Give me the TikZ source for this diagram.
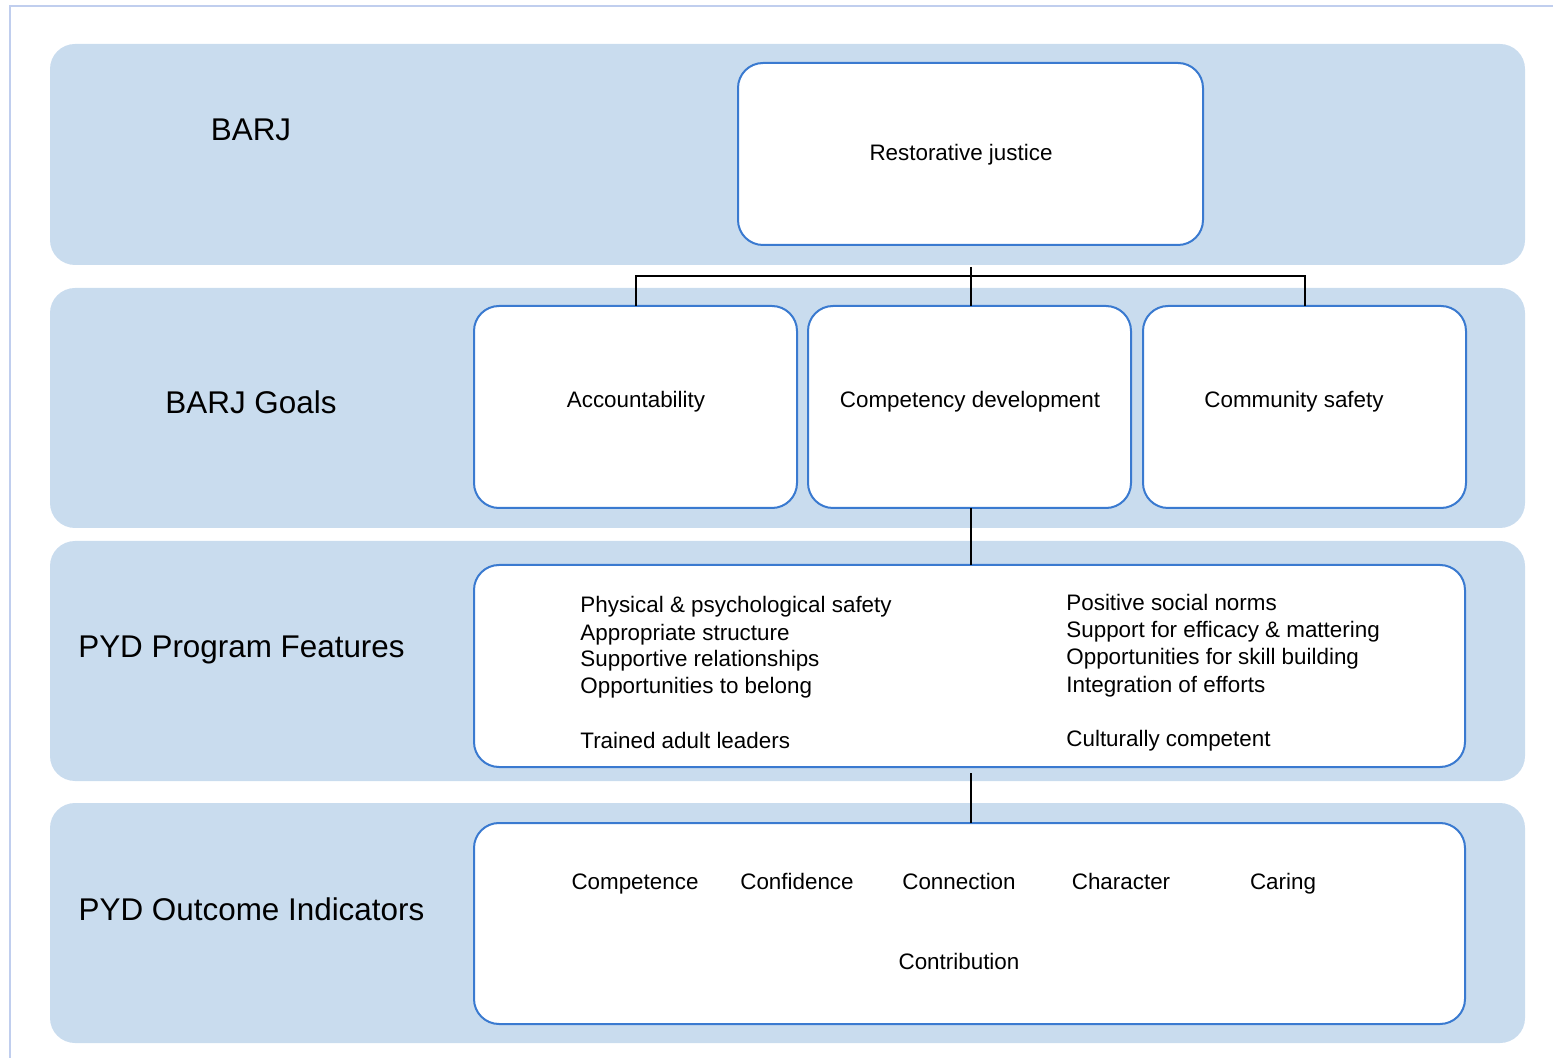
\documentclass[tikz,border=0pt]{standalone}
\usepackage{fontspec}
\setmainfont{Liberation Sans}
\definecolor{bandblue}{RGB}{201,220,238}
\definecolor{boxblue}{RGB}{58,122,208}
\definecolor{framecol}{RGB}{192,206,238}
\begin{document}
\begin{tikzpicture}[x=0.5pt,y=-0.5pt,
  band/.style={fill=bandblue,draw=none,rounded corners=12.5pt},
  wbox/.style={fill=white,draw=boxblue,line width=1pt,rounded corners=12.5pt},
  big/.style={font=\fontsize{15.7pt}{18pt}\selectfont,inner sep=0pt,anchor=base},
  small/.style={font=\fontsize{11.2pt}{13.5pt}\selectfont,inner sep=0pt,anchor=base},
  lsmall/.style={small,anchor=base west},
  conn/.style={draw=black,line width=1pt}]
\useasboundingbox (0,0) rectangle (1553,1058);
\draw[framecol,line width=1.2pt] (10,1058) -- (10,6) -- (1553,6);
% bands
\path[band] (50,44) rectangle (1525,265);
\path[band] (50,288) rectangle (1525,528);
\path[band] (50,541) rectangle (1525,781);
\path[band] (50,803) rectangle (1525,1043);
% band labels
\node[big] (l1) at (251,141) {BARJ};
\node[big] (l2) at (251,414) {BARJ Goals};
\node[big] (l3) at (241.5,658) {PYD Program Features};
\node[big] (l4) at (251.5,920) {PYD Outcome Indicators};
% top box
\path[wbox] (738,63) rectangle (1203,245);
\node[small] (rj) at (961,161) {Restorative justice};
% goal boxes
\path[wbox] (474,306) rectangle (797,508);
\path[wbox] (808,306) rectangle (1131,508);
\path[wbox] (1143,306) rectangle (1466,508);
\coordinate (acct) at (635.5,306);
\coordinate (comp) at (970.5,306);
\coordinate (comm) at (1304.5,306);
\coordinate (compb) at (970.5,508);
\node[small] (t1) at (636,408) {Accountability};
\node[small] (t2) at (970,408) {Competency development};
\node[small] (t3) at (1294,408) {Community safety};
% features
\path[wbox] (474,565) rectangle (1465,767);
\coordinate (featt) at (970.5,565);
\coordinate (featb) at (970.5,773);
\node[lsmall] (fl1) at (580,613) {Physical \& psychological safety};
\node[lsmall] (fl2) at (580,640) {Appropriate structure};
\node[lsmall] (fl3) at (580,667) {Supportive relationships};
\node[lsmall] (fl4) at (580,694) {Opportunities to belong};
\node[lsmall] (fl5) at (580,748) {Trained adult leaders};
\node[lsmall] (fr1) at (1066,611) {Positive social norms};
\node[lsmall] (fr2) at (1066,638) {Support for efficacy \& mattering};
\node[lsmall] (fr3) at (1066,665) {Opportunities for skill building};
\node[lsmall] (fr4) at (1066,692) {Integration of efforts};
\node[lsmall] (fr5) at (1066,746) {Culturally competent};
% outcomes
\path[wbox] (474,823) rectangle (1465,1024);
\coordinate (outt) at (970.5,823);
\node[small] (o1) at (635,889) {Competence};
\node[small] (o2) at (797,889) {Confidence};
\node[small] (o3) at (959,889) {Connection};
\node[small] (o4) at (1121,889) {Character};
\node[small] (o5) at (1283,889) {Caring};
\node[small] (o6) at (959,969) {Contribution};
% connectors
\coordinate (hub) at (970.5,267);
\coordinate (hl) at (635.5,276);
\coordinate (hr) at (1304.5,276);
\draw[conn] (hub) -- (comp);
\draw[conn] (acct) -- (hl) -- (hr) -- (comm);
\draw[conn] (compb) -- (featt);
\draw[conn] (featb) -- (outt);
\end{tikzpicture}
\end{document}
